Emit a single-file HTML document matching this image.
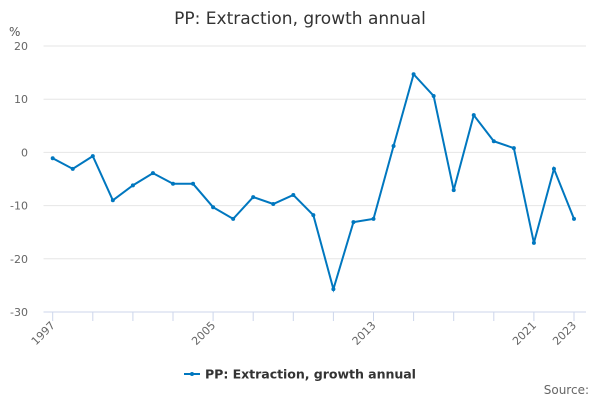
<!DOCTYPE html>
<html><head><meta charset="utf-8"><style>
body{margin:0;background:#fff;font-family:"Liberation Sans","DejaVu Sans",sans-serif;}
svg text{font-family:"DejaVu Sans","Liberation Sans",sans-serif;}
</style></head><body>
<svg id="c" width="600" height="400">
<text x="300" y="24" text-anchor="middle" font-size="17" fill="#333">PP: Extraction, growth annual</text>
<text x="9" y="36" font-size="12" fill="#555">%</text>
<g id="grid"></g><g id="xax"></g><g id="series"></g>
<g>
<line x1="184" y1="374" x2="200" y2="374" stroke="#0077bf" stroke-width="2"/>
<circle cx="192" cy="374" r="2" fill="#0077bf"/>
<text x="205" y="378.5" font-size="12.6" font-weight="bold" fill="#333" textLength="211">PP: Extraction, growth annual</text>
</g>
<text x="589" y="394" text-anchor="end" font-size="12" fill="#666">Source:</text>
</svg>
<script>
const years=[1997,1998,1999,2000,2001,2002,2003,2004,2005,2006,2007,2008,2009,2010,2011,2012,2013,2014,2015,2016,2017,2018,2019,2020,2021,2022,2023];
const values=[-1.1,-3.1,-0.7,-9,-6.2,-3.9,-5.9,-5.9,-10.3,-12.5,-8.4,-9.7,-8.0,-11.8,-25.7,-13.1,-12.5,1.2,14.7,10.6,-7.1,7.0,2.1,0.8,-17.0,-3.1,-12.5];
const yTicks=[20,10,0,-10,-20,-30];
const xLabels=[1997,2005,2013,2021,2023];
const NS='http://www.w3.org/2000/svg';
const xs=y=>52.7+(y-1997)*(574-52.7)/26;
const ys=v=>152.4-v*5.32;
function mk(t,a,p){const e=document.createElementNS(NS,t);for(const k in a)e.setAttribute(k,a[k]);p.appendChild(e);return e;}
const g=document.getElementById('grid');
yTicks.forEach(v=>{
 const l=mk('line',{x1:43.5,x2:586,y1:ys(v),y2:ys(v),stroke:v===-30?'#ccd6eb':'#e6e6e6','stroke-width':1},g);
 
 
 const t=mk('text',{x:28,y:ys(v)+4,'text-anchor':'end','font-size':11,fill:'#666'},g);
 t.textContent=v;
 
 
});
const xa=document.getElementById('xax');
for(let y=1997;y<=2023;y+=2){
 const l=mk('line',{x1:xs(y),x2:xs(y),y1:312,y2:321,stroke:'#ccd6eb'},xa);
 
 
}
xLabels.forEach(y=>{
 const t=mk('text',{x:xs(y)+3,y:326,'text-anchor':'end','font-size':11,fill:'#666',transform:`rotate(-45 ${xs(y)+3} 326)`},xa);
 t.textContent=y;
 
 
});
const s=document.getElementById('series');
const p=mk('path',{d:years.map((y,i)=>(i?'L':'M')+xs(y)+' '+ys(values[i])).join(' '),fill:'none',stroke:'#0077bf','stroke-width':2},s);


years.forEach((y,i)=>{
 const c=mk('circle',{cx:xs(y),cy:ys(values[i]),r:2,fill:'#0077bf'},s);
 
 
});
</script>
</body></html>
